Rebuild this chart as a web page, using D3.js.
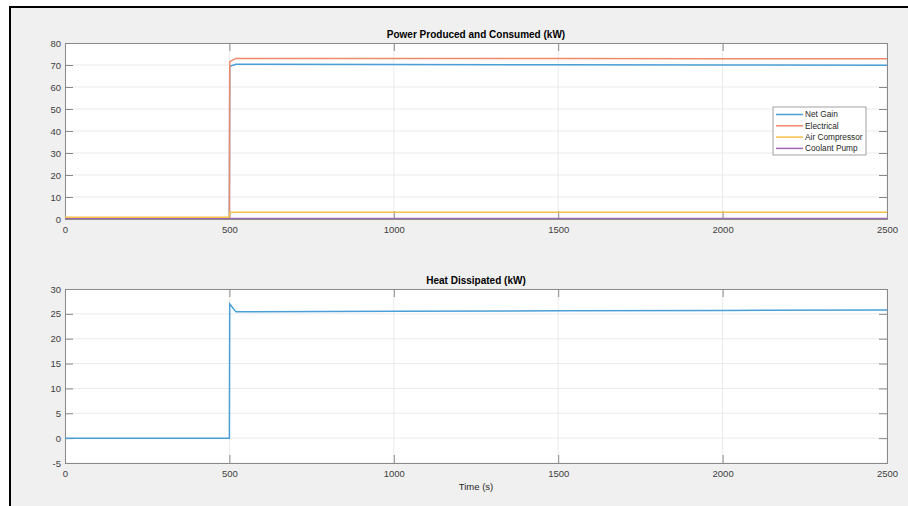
<!DOCTYPE html>
<html>
<head>
<meta charset="utf-8">
<script src="https://cdn.jsdelivr.net/npm/d3@7"></script>
<style>
  body { margin: 0; background: #fff; }
  svg { display: block; font-family: "Liberation Sans", Arial, sans-serif; }
</style>
</head>
<body>
<svg width="908" height="506"></svg>
<script>
const xTicks = [0, 500, 1000, 1500, 2000, 2500];
const powerTicks = [0, 10, 20, 30, 40, 50, 60, 70, 80];
const heatTicks = [-5, 0, 5, 10, 15, 20, 25, 30];

const time = [0, 500, 501, 520, 1000, 1500, 2000, 2500];
const netGain = [-0.3, -0.3, 69.4, 70.3, 70.2, 70.1, 70.0, 69.9];
const electrical = [0.5, 0.5, 71.5, 73.0, 73.0, 72.9, 72.8, 72.8];
const airCompressor = [0.8, 0.8, 3.0, 3.1, 3.1, 3.1, 3.1, 3.1];
const coolantPump = [0.1, 0.1, 0.2, 0.2, 0.2, 0.2, 0.2, 0.2];
const heat = [0, 0, 27.0, 25.4, 25.5, 25.6, 25.7, 25.8];

const seriesNames = ["Net Gain", "Electrical", "Air Compressor", "Coolant Pump"];
const seriesColors = ["#4a9fd8", "#ee8a6a", "#f5c04a", "#a068b2"];
const powerSeries = [netGain, electrical, airCompressor, coolantPump];

const svg = d3.select("svg");

svg.append("rect")
  .attr("x", 10).attr("y", 7)
  .attr("width", 910).attr("height", 510)
  .attr("fill", "#f0f0f0")
  .attr("stroke", "#000")
  .attr("stroke-width", 2);

const left = 65, right = 887;
const x = d3.scaleLinear().domain([0, 2500]).range([left, right]);
const fmt = d => String(d).replace("\u2212", "-");

const drawAxes = (y, yTicks, top, bottom, title, id) => {
  const g = svg.append("g");
  g.append("rect")
    .attr("x", left).attr("y", top)
    .attr("width", right - left).attr("height", bottom - top)
    .attr("fill", "#fff");

  g.append("clipPath").attr("id", id)
    .append("rect")
    .attr("x", left).attr("y", top)
    .attr("width", right - left).attr("height", bottom - top);

  // grid
  g.selectAll(".gx").data(xTicks).enter().append("line")
    .attr("x1", d => x(d)).attr("x2", d => x(d))
    .attr("y1", top).attr("y2", bottom)
    .attr("stroke", "#ebebeb").attr("stroke-width", 1);
  g.selectAll(".gy").data(yTicks).enter().append("line")
    .attr("x1", left).attr("x2", right)
    .attr("y1", d => y(d)).attr("y2", d => y(d))
    .attr("stroke", "#ebebeb").attr("stroke-width", 1);

  const tickLen = 8;
  const axisColor = "#8a8a8a";
  const ax = g.append("g").attr("transform", `translate(0,${bottom})`)
    .call(d3.axisBottom(x).tickValues(xTicks).tickSize(-tickLen).tickPadding(7).tickFormat(fmt));
  const axTop = g.append("g").attr("transform", `translate(0,${top})`)
    .call(d3.axisTop(x).tickValues(xTicks).tickSize(-tickLen).tickFormat(""));
  const ay = g.append("g").attr("transform", `translate(${left},0)`)
    .call(d3.axisLeft(y).tickValues(yTicks).tickSize(-tickLen).tickPadding(4).tickFormat(fmt));
  const ayRight = g.append("g").attr("transform", `translate(${right},0)`)
    .call(d3.axisRight(y).tickValues(yTicks).tickSize(-tickLen).tickFormat(""));

  [ax, axTop, ay, ayRight].forEach(a => {
    a.select(".domain").attr("stroke", axisColor);
    a.selectAll(".tick line").attr("stroke", axisColor);
    a.selectAll(".tick text")
      .attr("fill", "#404040")
      .style("font-size", "9.5px")
      .style("font-family", "Liberation Sans, Arial, sans-serif");
  });

  g.append("text")
    .attr("x", (left + right) / 2).attr("y", top - 5)
    .attr("text-anchor", "middle")
    .style("font-size", "10px")
    .style("font-weight", "bold")
    .attr("fill", "#000")
    .text(title);

  return g;
};

// top panel
const yPower = d3.scaleLinear().domain([0, 80]).range([219, 43]);
const topG = drawAxes(yPower, powerTicks, 43, 219, "Power Produced and Consumed (kW)", "clipTop");

const powerLine = d3.line().x((d, i) => x(time[i])).y(d => yPower(d));
topG.append("g").attr("clip-path", "url(#clipTop)")
  .selectAll("path")
  .data(powerSeries)
  .enter()
  .append("path")
  .attr("d", powerLine)
  .attr("fill", "none")
  .attr("stroke", (d, i) => seriesColors[i])
  .attr("stroke-width", 1.5);

// legend
const legend = svg.append("g").attr("transform", "translate(773,107)");
legend.append("rect")
  .attr("width", 93).attr("height", 48)
  .attr("fill", "#fff")
  .attr("stroke", "#8a8a8a")
  .attr("stroke-width", 0.8);
const items = legend.selectAll(".item")
  .data(seriesNames)
  .enter()
  .append("g")
  .attr("transform", (d, i) => `translate(0,${7.5 + i * 11.3})`);
items.append("line")
  .attr("x1", 3).attr("x2", 30)
  .attr("stroke", (d, i) => seriesColors[i])
  .attr("stroke-width", 1.5);
items.append("text")
  .attr("x", 32).attr("dy", "0.35em")
  .style("font-size", "8.3px")
  .attr("fill", "#262626")
  .text(d => d);

// bottom panel
const yHeat = d3.scaleLinear().domain([-5, 30]).range([463, 289]);
const botG = drawAxes(yHeat, heatTicks, 289, 463, "Heat Dissipated (kW)", "clipBot");

const heatLine = d3.line().x((d, i) => x(time[i])).y(d => yHeat(d));
botG.append("path")
  .datum(heat)
  .attr("clip-path", "url(#clipBot)")
  .attr("d", heatLine)
  .attr("fill", "none")
  .attr("stroke", seriesColors[0])
  .attr("stroke-width", 1.5);

svg.append("text")
  .attr("x", (left + right) / 2).attr("y", 490)
  .attr("text-anchor", "middle")
  .style("font-size", "9.5px")
  .attr("fill", "#262626")
  .text("Time (s)");
</script>
</body>
</html>
